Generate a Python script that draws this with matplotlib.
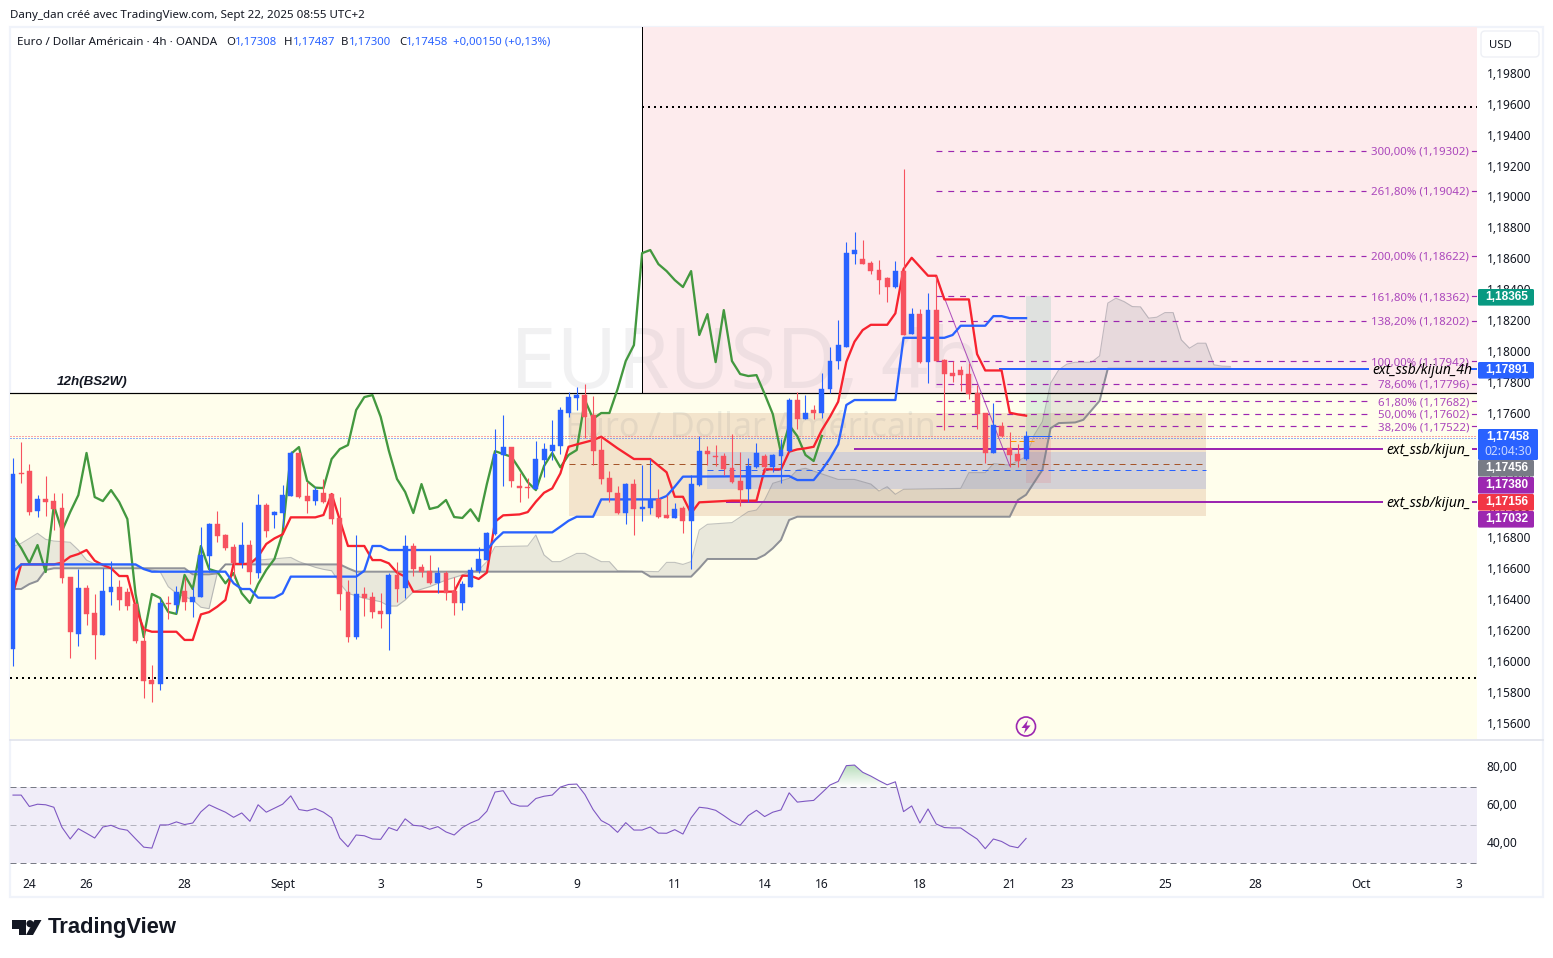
import numpy as np
import matplotlib
matplotlib.use('Agg')
import matplotlib.pyplot as plt
from matplotlib.patches import Rectangle, FancyBboxPatch, Polygon, Circle
from matplotlib.colors import LinearSegmentedColormap
from matplotlib.path import Path
from matplotlib.ticker import FuncFormatter
from matplotlib.transforms import ScaledTranslation

plt.rcParams['font.family'] = ['Noto Sans', 'DejaVu Sans']

# candles, one per 4h bar
opens = [1.16079,1.17216,1.17229,1.16975,1.17048,1.17035,1.16990,1.16544,1.16178,1.16473,1.16312,1.16172,1.16450,1.16482,1.16450,1.16372,1.16133,1.15881,1.15858,1.16379,1.16366,1.16456,1.16385,1.16417,1.16684,
         1.16889,1.16818,1.16740,1.16637,1.16753,1.16572,1.17009,1.16947,1.16960,1.17070,1.17348,1.17070,1.17037,1.17089,1.17083,1.16928,1.16450,1.16159,1.16437,1.16417,1.16327,1.16308,1.16560,1.16478,1.16747,
         1.16609,1.16583,1.16508,1.16572,1.16454,1.16379,1.16484,1.16583,1.16656,1.16824,1.17335,1.17386,1.17132,1.17128,1.17115,1.17302,1.17360,1.17395,1.17606,1.17705,1.17722,1.17593,1.17367,1.17186,1.17089,
         1.16960,1.17147,1.16986,1.16992,1.17050,1.16947,1.16928,1.16992,1.16908,1.17141,1.17360,1.17328,1.17328,1.17251,1.17167,1.17115,1.17257,1.17328,1.17257,1.17328,1.17360,1.17690,1.17569,1.17625,1.17606,
         1.17761,1.17942,1.18034,1.18633,1.18601,1.18575,1.18530,1.18478,1.18420,1.18523,1.18116,1.18245,1.17935,1.18271,1.17948,1.17864,1.17884,1.17858,1.17735,1.17606,1.17347,1.17522,1.17380,1.17341,1.17308]
closes = [1.17210,1.17212,1.16966,1.17048,1.17033,1.16984,1.16542,1.16193,1.16473,1.16308,1.16172,1.16456,1.16482,1.16398,1.16359,1.16133,1.15877,1.15858,1.16379,1.16374,1.16450,1.16385,1.16417,1.16689,1.16889,
          1.16811,1.16734,1.16637,1.16753,1.16579,1.17009,1.16844,1.16966,1.17076,1.17348,1.17063,1.17037,1.17108,1.17031,1.16921,1.16437,1.16159,1.16437,1.16411,1.16321,1.16308,1.16560,1.16469,1.16747,1.16598,
          1.16581,1.16506,1.16572,1.16441,1.16379,1.16501,1.16592,1.16663,1.16829,1.17341,1.17386,1.17167,1.17124,1.17121,1.17309,1.17373,1.17399,1.17625,1.17709,1.17722,1.17582,1.17363,1.17180,1.17096,1.16960,
          1.17147,1.16986,1.16999,1.17044,1.16934,1.16928,1.16984,1.16908,1.17147,1.17360,1.17341,1.17324,1.17244,1.17160,1.17108,1.17264,1.17348,1.17255,1.17335,1.17367,1.17690,1.17569,1.17606,1.17606,1.17761,
          1.17942,1.18045,1.18639,1.18659,1.18568,1.18523,1.18465,1.18420,1.18523,1.18110,1.18245,1.17935,1.18271,1.17942,1.17858,1.17845,1.17851,1.17729,1.17599,1.17347,1.17528,1.17457,1.17335,1.17296,1.17458]
highs = [1.17313,1.17421,1.17274,1.17074,1.17199,1.17087,1.17087,1.16549,1.16596,1.16495,1.16437,1.16603,1.16650,1.16527,1.16473,1.16372,1.16226,1.15978,1.16409,1.16424,1.16488,1.16549,1.16484,1.16867,1.16893,
         1.16973,1.16822,1.16760,1.16902,1.16786,1.17083,1.17022,1.16975,1.17139,1.17360,1.17348,1.17162,1.17130,1.17180,1.17087,1.17061,1.16527,1.16818,1.16480,1.16450,1.16441,1.16570,1.16646,1.16818,1.16764,
         1.16631,1.16687,1.16609,1.16587,1.16549,1.16521,1.16609,1.16738,1.16839,1.17500,1.17593,1.17386,1.17216,1.17188,1.17425,1.17410,1.17561,1.17647,1.17739,1.17772,1.17793,1.17716,1.17453,1.17231,1.17134,
         1.17152,1.17180,1.17270,1.17307,1.17113,1.17076,1.17022,1.17005,1.17205,1.17457,1.17393,1.17399,1.17350,1.17470,1.17354,1.17313,1.17410,1.17341,1.17341,1.17436,1.17701,1.17739,1.17722,1.17658,1.17862,
         1.18030,1.18207,1.18708,1.18775,1.18723,1.18588,1.18594,1.18486,1.18588,1.19180,1.18284,1.18278,1.18381,1.18491,1.17955,1.17940,1.17909,1.17927,1.17787,1.17606,1.17670,1.17548,1.17481,1.17406,1.17487]
lows = [1.15974,1.17152,1.16947,1.16936,1.16941,1.16850,1.16510,1.16026,1.16103,1.16237,1.16019,1.16172,1.16366,1.16333,1.16333,1.16122,1.15767,1.15741,1.15817,1.16275,1.16312,1.16333,1.16290,1.16417,1.16581,
        1.16771,1.16721,1.16538,1.16603,1.16501,1.16538,1.16805,1.16863,1.16872,1.17070,1.17055,1.16960,1.17012,1.17027,1.16889,1.16333,1.16127,1.16146,1.16295,1.16282,1.16215,1.16075,1.16387,1.16409,1.16553,
        1.16544,1.16501,1.16441,1.16398,1.16301,1.16333,1.16480,1.16570,1.16656,1.16818,1.17134,1.17130,1.17033,1.17055,1.17113,1.17195,1.17302,1.17341,1.17582,1.17625,1.17442,1.17270,1.17147,1.17033,1.16953,
        1.16889,1.16818,1.16908,1.16953,1.16928,1.16928,1.16928,1.16833,1.16600,1.17134,1.17270,1.17264,1.17205,1.17156,1.17005,1.17033,1.17248,1.17227,1.17227,1.17156,1.17354,1.17500,1.17569,1.17569,1.17576,
        1.17733,1.17888,1.18034,1.18568,1.18568,1.18504,1.18374,1.18323,1.18413,1.18110,1.18116,1.17929,1.17797,1.17940,1.17496,1.17806,1.17748,1.17696,1.17503,1.17281,1.17345,1.17453,1.17259,1.17259,1.17300]

# ichimoku vertices
kijun_idx = [0,1,15,16,17,26,27,28,29,30,32,33,34,42,43,44,45,46,58,59,60,66,67,68,69,71,72,79,80,81,82,95,96,98,99,100,101,102,103,108,109,114,115,116,119,120,121,122,124]
kijun_val = [1.16581,1.16628,1.16628,1.16598,1.16581,1.16581,1.16506,1.16469,1.16469,1.16413,1.16413,1.16441,1.16549,1.16549,1.16587,1.16747,1.16747,1.16721,1.16721,1.16786,1.16835,1.16835,1.16872,1.16910,1.16936,1.16936,1.17048,1.17048,1.17070,1.17130,1.17195,1.17199,1.17173,1.17173,1.17238,1.17313,1.17404,1.17658,1.17690,1.17690,1.18092,1.18092,1.18110,1.18170,1.18170,1.18232,1.18232,1.18219,1.18219]
tenkan_idx = [0,1,5,6,7,8,9,10,11,12,13,14,15,16,17,20,21,22,23,24,25,26,27,29,30,31,32,33,34,37,38,39,40,41,43,44,45,46,47,48,49,54,55,56,57,58,59,60,62,63,64,65,66,67,68,69,71,72,74,76,78,80,81,82,83,84,88,91,92,94,95,96,97,98,99,100,101,102,103,104,105,107,108,109,110,112,113,114,117,118,119,121,122,123,124]
tenkan_val = [1.16441,1.16628,1.16628,1.16639,1.16678,1.16695,1.16721,1.16652,1.16624,1.16603,1.16553,1.16553,1.16355,1.16209,1.16193,1.16193,1.16140,1.16140,1.16305,1.16320,1.16355,1.16398,1.16631,1.16631,1.16678,1.16760,1.16796,1.16822,1.16932,1.16932,1.16947,1.17083,1.16915,1.16747,1.16747,1.16656,1.16656,1.16635,1.16575,1.16549,1.16452,1.16452,1.16555,1.16555,1.16534,1.16575,1.16904,1.16945,1.16951,1.16966,1.17033,1.17091,1.17119,1.17216,1.17388,1.17403,1.17431,1.17453,1.17378,1.17309,1.17309,1.17223,1.17065,1.17065,1.16958,1.17029,1.17040,1.17040,1.17242,1.17242,1.17356,1.17371,1.17378,1.17388,1.17496,1.17582,1.17679,1.17937,1.18067,1.18142,1.18176,1.18176,1.18250,1.18536,1.18609,1.18493,1.18493,1.18340,1.18340,1.17987,1.17881,1.17881,1.17608,1.17597,1.17589]
span_a_idx = [0,1,2,3,4,5,7,8,9,10,11,15,16,18,19,20,22,23,24,25,26,28,30,34,35,37,38,39,40,41,43,44,45,46,47,48,49,51,52,53,55,56,57,58,59,63,64,65,66,67,69,70,72,73,74,79,80,81,82,83,84,85,88,90,91,92,93,95,96,97,101,103,105,106,107,108,109,116,117,119,120,122,124,125,126,127,128,129,130,132,133,134,135,136,137,138,139,140,141,142,143,144,145,146,147,148,149]
span_a_val = [1.16743,1.16764,1.16796,1.16829,1.16790,1.16779,1.16771,1.16721,1.16656,1.16631,1.16628,1.16624,1.16603,1.16581,1.16484,1.16441,1.16398,1.16351,1.16342,1.16570,1.16628,1.16628,1.16656,1.16673,1.16646,1.16609,1.16596,1.16587,1.16506,1.16441,1.16409,1.16398,1.16387,1.16359,1.16359,1.16398,1.16452,1.16484,1.16506,1.16527,1.16560,1.16581,1.16592,1.16646,1.16743,1.16747,1.16818,1.16689,1.16646,1.16646,1.16699,1.16699,1.16646,1.16646,1.16587,1.16581,1.16641,1.16641,1.16628,1.16646,1.16850,1.16887,1.16898,1.16969,1.16979,1.17044,1.17152,1.17184,1.17238,1.17249,1.17177,1.17177,1.17147,1.17102,1.17130,1.17081,1.17113,1.17119,1.17221,1.17221,1.17279,1.17270,1.17324,1.17465,1.17551,1.17799,1.17885,1.17922,1.17934,1.17934,1.17975,1.18316,1.18348,1.18326,1.18294,1.18292,1.18219,1.18225,1.18255,1.18255,1.18079,1.18025,1.18057,1.18057,1.17917,1.17909,1.17907]
span_b_idx = [0,1,2,3,4,5,21,22,24,25,26,40,41,42,77,78,83,84,85,91,92,93,94,95,96,122,123,124,126,127,128,130,131,133,134,149]
span_b_val = [1.16469,1.16469,1.16501,1.16521,1.16592,1.16603,1.16603,1.16564,1.16564,1.16570,1.16628,1.16628,1.16603,1.16581,1.16581,1.16549,1.16549,1.16603,1.16663,1.16663,1.16689,1.16732,1.16786,1.16915,1.16936,1.16936,1.17044,1.17078,1.17239,1.17508,1.17541,1.17545,1.17562,1.17685,1.17892,1.17892]

# RSI, one per bar
rsi = [65.9,65.9,59.9,61.1,60.8,59.5,48.9,42.8,48.2,45.8,43.3,49.1,50.0,48.2,47.4,42.9,38.5,38.0,50.2,50.2,51.8,50.4,51.2,57.1,60.8,
       58.8,56.9,54.2,56.5,52.1,60.8,56.9,59.0,61.1,65.5,58.3,57.6,58.8,56.9,53.9,43.3,38.7,44.9,44.5,42.8,42.6,48.8,47.2,53.4,50.0,
       49.6,47.9,49.3,46.5,44.9,48.8,51.2,53.0,57.4,67.5,68.2,61.5,60.1,60.1,64.1,65.3,65.9,70.1,71.5,71.7,66.2,58.3,52.5,50.2,46.3,
       51.4,47.5,47.5,49.1,45.9,45.8,47.7,45.4,53.9,59.5,59.0,57.9,55.1,52.1,50.0,55.1,57.9,54.6,56.9,58.1,67.1,62.2,62.7,63.1,67.1,
       71.2,73.1,81.4,81.7,77.9,75.9,73.5,71.3,72.9,57.2,60.2,51.2,58.6,50.7,48.8,48.6,48.6,45.6,42.8,37.7,42.8,41.5,39.1,38.2,43.1]

fib_levels = ['300,00%','261,80%','200,00%','161,80%','138,20%','100,00%','78,60%','61,80%','50,00%','38,20%']
fib_prices = [1.19302,1.19042,1.18622,1.18362,1.18202,1.17942,1.17796,1.17682,1.17602,1.17522]

date_idx = [2,9,21,33,45,57,69,81,92,99,111,122,129,141,152,165,177]
date_labels = ['24','26','28','Sept','3','5','9','11','14','16','18','21','23','25','28','Oct','3']

badge_text = ['1,18365','1,17891','1,17456','1,17380','1,17156','1,17032']
badge_tops = [289,362,460,477,494,511]
badge_colors = ['#089981','#2962ff','#787b86','#9c27b0','#f23645','#9c27b0']

zone_price = 1.17735      # 12h limit between pink and yellow
upper_dotted = 1.19583
lower_dotted = 1.15894
box_top, box_bottom = 1.17606, 1.16941
gray_top, gray_bottom = 1.17356, 1.17116
brown_dash, blue_dash = 1.17276, 1.17237
red_dot, blue_dot = 1.17460, 1.17444
ssb_4h, ssb_a, ssb_b = 1.17891, 1.17375, 1.17032
target, entry, stop = 1.18365, 1.17458, 1.17156

W, H = 1553, 958
BLUE = '#2962ff'
RED = '#f7525f'
TXT = '#131722'
FS = 8.6
PX = 0.72  # 1 pixel in points at dpi 100


def i_of(px):
    return (px - 13) / 8.17


fig = plt.figure(figsize=(W / 100, H / 100), dpi=100, facecolor='white')

bg = fig.add_axes([0, 0, 1, 1], zorder=0)
bg.set_xlim(0, W)
bg.set_ylim(H, 0)
bg.axis('off')
bg.add_patch(Rectangle((10, 27), 1533, 870, fc='white', ec='#f0f3fa', lw=1.6))

ax = fig.add_axes([10 / W, 1 - 739 / H, 1467 / W, 712 / H], zorder=1)
ax2 = fig.add_axes([10 / W, 1 - 871 / H, 1467 / W, 131 / H], zorder=1)
for a in (ax, ax2):
    for s in a.spines.values():
        s.set_visible(False)
    a.patch.set_alpha(0)
    a.set_xlim(i_of(10), i_of(1477))

ax.set_ylim(1.155, 1.201)
ax.yaxis.tick_right()
ax.set_yticks(np.arange(1.156, 1.1981, 0.002))
ax.yaxis.set_major_formatter(FuncFormatter(lambda v, p: ('%.5f' % v).replace('.', ',')))
ax.tick_params(axis='y', length=0, pad=6.8, labelsize=FS, labelcolor=TXT)
ax.set_xticks([])

# backgrounds
ax.axhspan(1.155, zone_price, color='#fffeec', lw=0, zorder=0)
ax.add_patch(Rectangle((77, zone_price), i_of(1477) - 77, 1.201 - zone_price, fc='#fdebed', lw=0, zorder=0))
ax.add_patch(Rectangle((68, box_bottom), 78, box_top - box_bottom, fc='#f3e4cc', lw=0, zorder=0.5))
ax.add_patch(Rectangle((85, gray_bottom), 61, gray_top - gray_bottom, fc='#d4d1d5', lw=0, zorder=0.6))

# watermarks
ax.text(60.8, 1.17769, 'EURUSD, 4h', fontsize=60, color='#787b86', alpha=0.1, va='baseline', zorder=0.8)
ax.text(67.6, 1.17450, 'Euro / Dollar Américain', fontsize=24.5, color='#787b86', alpha=0.12, va='baseline', zorder=0.8)

# levels
ax.plot([77, 77], [zone_price, 1.201], color='black', lw=1 * PX, zorder=2)
ax.axhline(zone_price, color='black', lw=1.2 * PX, zorder=2)
ax.plot([77, i_of(1477)], [upper_dotted] * 2, color='black', lw=2 * PX, ls=(0, (1, 2)), zorder=2)
ax.axhline(lower_dotted, color='black', lw=2 * PX, ls=(0, (1, 2)), zorder=2)
ax.axhline(red_dot, color='#f7525f', lw=PX, ls=(0, (1, 2)), zorder=2)
ax.axhline(blue_dot, color=BLUE, lw=PX, ls=(0, (1, 2)), zorder=2)
ax.plot([68, 145.5], [brown_dash] * 2, color='#a5552a', lw=PX, ls=(0, (6, 5)), zorder=2)
ax.plot([85, 146], [blue_dash] * 2, color=BLUE, lw=PX, ls=(0, (6, 5)), zorder=2)
ax.text(i_of(57), zone_price + 0.00035, '12h(BS2W)', fontsize=9.6, style='italic', weight='bold', color=TXT,
        va='bottom', zorder=3, family='Liberation Sans')

# fibonacci levels
for lev, pr in zip(fib_levels, fib_prices):
    end = 1366 if len(lev) > 6 or lev == '100,00%' else 1372
    ax.plot([113, i_of(end)], [pr, pr], color='#9c27b0', lw=0.85, ls=(0, (5, 5)), zorder=2)
    ax.plot([i_of(1472), i_of(1477)], [pr, pr], color='#9c27b0', lw=0.85, zorder=2)
    ax.text(i_of(1469), pr, '%s (%s)' % (lev, ('%.5f' % pr).replace('.', ',')), color='#ab47bc', fontsize=8.25,
            ha='right', va='center_baseline', zorder=3)
ax.plot([113, 122], [1.18486, 1.17264], color='#9c27b0', lw=PX, alpha=0.8, zorder=3)

# long position box
ax.add_patch(Rectangle((124, entry), 3, target - entry, fc='#089981', alpha=0.12, lw=0, zorder=1))
ax.add_patch(Rectangle((124, stop), 3, entry - stop, fc='#f23645', alpha=0.12, lw=0, zorder=1))
ax.plot([124, 127], [entry, entry], color=BLUE, lw=PX, zorder=3)
ax.plot([122, 125], [1.17424, 1.17424], color='#ff9800', lw=PX, ls=(0, (6, 3)), zorder=3)

# cloud
xs = np.arange(0, 150)
a_line = np.interp(xs, span_a_idx, span_a_val)
b_line = np.interp(xs, span_b_idx, span_b_val)
ax.fill_between(xs, a_line, b_line, color='#787b86', alpha=0.16, lw=0, zorder=1.5)
ax.plot(span_a_idx, span_a_val, color='#787b86', alpha=0.45, lw=PX * 1.1, zorder=1.6)
ax.plot(span_b_idx, span_b_val, color='#787b86', alpha=0.8, lw=2 * PX, zorder=1.6)

# horizontal study lines
ax.plot([i_of(1000), i_of(1368)], [ssb_4h] * 2, color=BLUE, lw=2 * PX, zorder=3)
ax.plot([i_of(1472), i_of(1477)], [ssb_4h] * 2, color=BLUE, lw=2 * PX, zorder=3)
ax.plot([103, i_of(1382)], [ssb_a] * 2, color='#9c27b0', lw=2 * PX, zorder=3)
ax.plot([87.4, i_of(1382)], [ssb_b] * 2, color='#9c27b0', lw=2 * PX, zorder=3)
for lab, y, left in [('ext_ssb/kijun_4h', ssb_4h, 1372), ('ext_ssb/kijun_', ssb_a, 1386), ('ext_ssb/kijun_', ssb_b, 1386)]:
    ax.text(i_of(left), y, lab, fontsize=10, style='italic', color='black', va='center_baseline', zorder=4)
    if left > 1380:
        ax.plot([i_of(1473), i_of(1477)], [y, y], color='#9c27b0', lw=2 * PX, zorder=3)

# ichimoku lines
chikou = closes[25:]
ax.plot(np.arange(len(chikou)), chikou, color='#43983f', lw=2.3 * PX, zorder=4, solid_joinstyle='round')
ax.plot(tenkan_idx, tenkan_val, color='#f7232f', lw=2.3 * PX, zorder=4, solid_joinstyle='round')
ax.plot(kijun_idx, kijun_val, color=BLUE, lw=2.3 * PX, zorder=4, solid_joinstyle='round')

# candles
idx = np.arange(len(opens))
o = np.array(opens)
c = np.array(closes)
col = [BLUE if cl >= op else RED for op, cl in zip(opens, closes)]
ax.vlines(idx, lows, highs, colors=col, lw=PX * 1.1, zorder=5)
ax.bar(idx, np.abs(c - o), bottom=np.minimum(o, c), width=0.6, color=col, edgecolor=col, linewidth=0.3, zorder=5)

# RSI
rsi_x = np.arange(len(rsi))
rsi_arr = np.array(rsi)
ax2.set_ylim(50 - 45.7 / 1.9, 50 + 85.3 / 1.9)
ax2.axhspan(30, 70, color='#f0edf8', lw=0, zorder=0)
ax2.axhline(70, color='#787b86', lw=PX, ls=(0, (6, 4)), zorder=1)
ax2.axhline(50, color='#787b86', lw=PX, alpha=0.5, ls=(0, (6, 4)), zorder=1)
ax2.axhline(30, color='#787b86', lw=PX, ls=(0, (6, 4)), zorder=1)
over = ax2.fill_between(rsi_x, 70, rsi_arr, where=rsi_arr > 70, interpolate=True, color='none', lw=0)
grad = np.linspace(1, 0, 64).reshape(-1, 1)
cm = LinearSegmentedColormap.from_list('ob', ['#ffffff', '#b5dcb8'])
im = ax2.imshow(grad, extent=[60, 115, 70, 82], aspect='auto', cmap=cm, zorder=0.8)
im.set_clip_path(Path.make_compound_path(*over.get_paths()), ax2.transData)
ax2.plot(rsi_x, rsi_arr, color='#7e57c2', lw=1.1 * PX, zorder=2)
ax2.set_xlim(i_of(10), i_of(1477))
ax2.set_ylim(50 - 45.7 / 1.9, 50 + 85.3 / 1.9)
ax2.yaxis.tick_right()
ax2.set_yticks([40, 60, 80])
ax2.set_yticklabels(['40,00', '60,00', '80,00'])
ax2.set_xticks(date_idx)
ax2.set_xticklabels(date_labels)
ax2.tick_params(axis='y', length=0, pad=6.8, labelsize=FS, labelcolor=TXT)
ax2.tick_params(axis='x', length=0, pad=5.2, labelsize=FS, labelcolor=TXT)
# tick labels sit a little above their level in the reference
nudge = ScaledTranslation(0, 2.4 / 100, fig.dpi_scale_trans)
for lb in ax2.get_yticklabels():
    lb.set_transform(lb.get_transform() + nudge)
nudge_main = ScaledTranslation(0, 0.8 / 100, fig.dpi_scale_trans)
for lb in ax.get_yticklabels():
    lb.set_transform(lb.get_transform() + nudge_main)

# overlay in picture pixels: frame, header, badges, logo
deco = fig.add_axes([0, 0, 1, 1], zorder=10)
deco.set_xlim(0, W)
deco.set_ylim(H, 0)
deco.axis('off')
deco.plot([10, 1543], [739.5, 739.5], color='#e0e3eb', lw=1.2)

deco.text(10, 15, 'Dany_dan créé avec TradingView.com, Sept 22, 2025 08:55 UTC+2', fontsize=8.3, color=TXT, va='center')
deco.text(17, 42, 'Euro / Dollar Américain · 4h · OANDA', fontsize=8.35, color=TXT, va='center')
for x, t, cl in [(226, 'O', TXT), (235, '1,17308', BLUE), (283.5, 'H', TXT), (292.5, '1,17487', BLUE), (341, 'B', TXT),
                 (349, '1,17300', BLUE), (399, 'C', TXT), (406, '1,17458', BLUE), (453, '+0,00150 (+0,13%)', BLUE)]:
    deco.text(x, 42, t, fontsize=8.2, color=cl, va='center')

deco.add_patch(FancyBboxPatch((1481, 31), 58, 26, boxstyle='round,pad=0,rounding_size=4', fc='white', ec='#eef0f5', lw=1))
deco.text(1500.5, 45, 'USD', fontsize=FS * 0.95, color=TXT, ha='center', va='center')

for t, top, cl in zip(badge_text, badge_tops, badge_colors):
    deco.add_patch(FancyBboxPatch((1478, top), 56, 16.6, boxstyle='round,pad=0,rounding_size=1.5', fc=cl, lw=0))
    deco.text(1507, top + 8.3, t, fontsize=8.6, color='white', weight='bold', ha='center', va='center', family='Liberation Sans')
deco.add_patch(FancyBboxPatch((1478, 429), 60, 31, boxstyle='round,pad=0,rounding_size=1.5', fc=BLUE, lw=0))
deco.text(1508, 437, '1,17458', fontsize=8.6, color='white', weight='bold', ha='center', va='center', family='Liberation Sans')
deco.text(1508, 451, '02:04:30', fontsize=FS, color='#c9d7ff', ha='center', va='center')

deco.add_patch(Circle((1026, 726.5), 9.5, fc='none', ec='#9c27b0', lw=1.2))
deco.add_patch(Polygon([(1028, 720), (1021.5, 728), (1025.5, 728), (1024, 733.5), (1030.5, 725.5), (1026.5, 725.5)], fc='#9c27b0', lw=0))

deco.add_patch(Polygon([(12, 920), (25.5, 920), (25.5, 935), (19, 935), (19, 929), (12, 929)], fc='#131722', lw=0))
deco.add_patch(Circle((30, 923.7), 3.6, fc='#131722', lw=0))
deco.add_patch(Polygon([(34.5, 920), (41.5, 920), (33, 935), (26, 935)], fc='#131722', lw=0))
deco.text(48, 928, 'TradingView', fontsize=15.8, weight='bold', color='#131722', va='center', family='Liberation Sans')

fig.savefig('out.png', dpi=100)
